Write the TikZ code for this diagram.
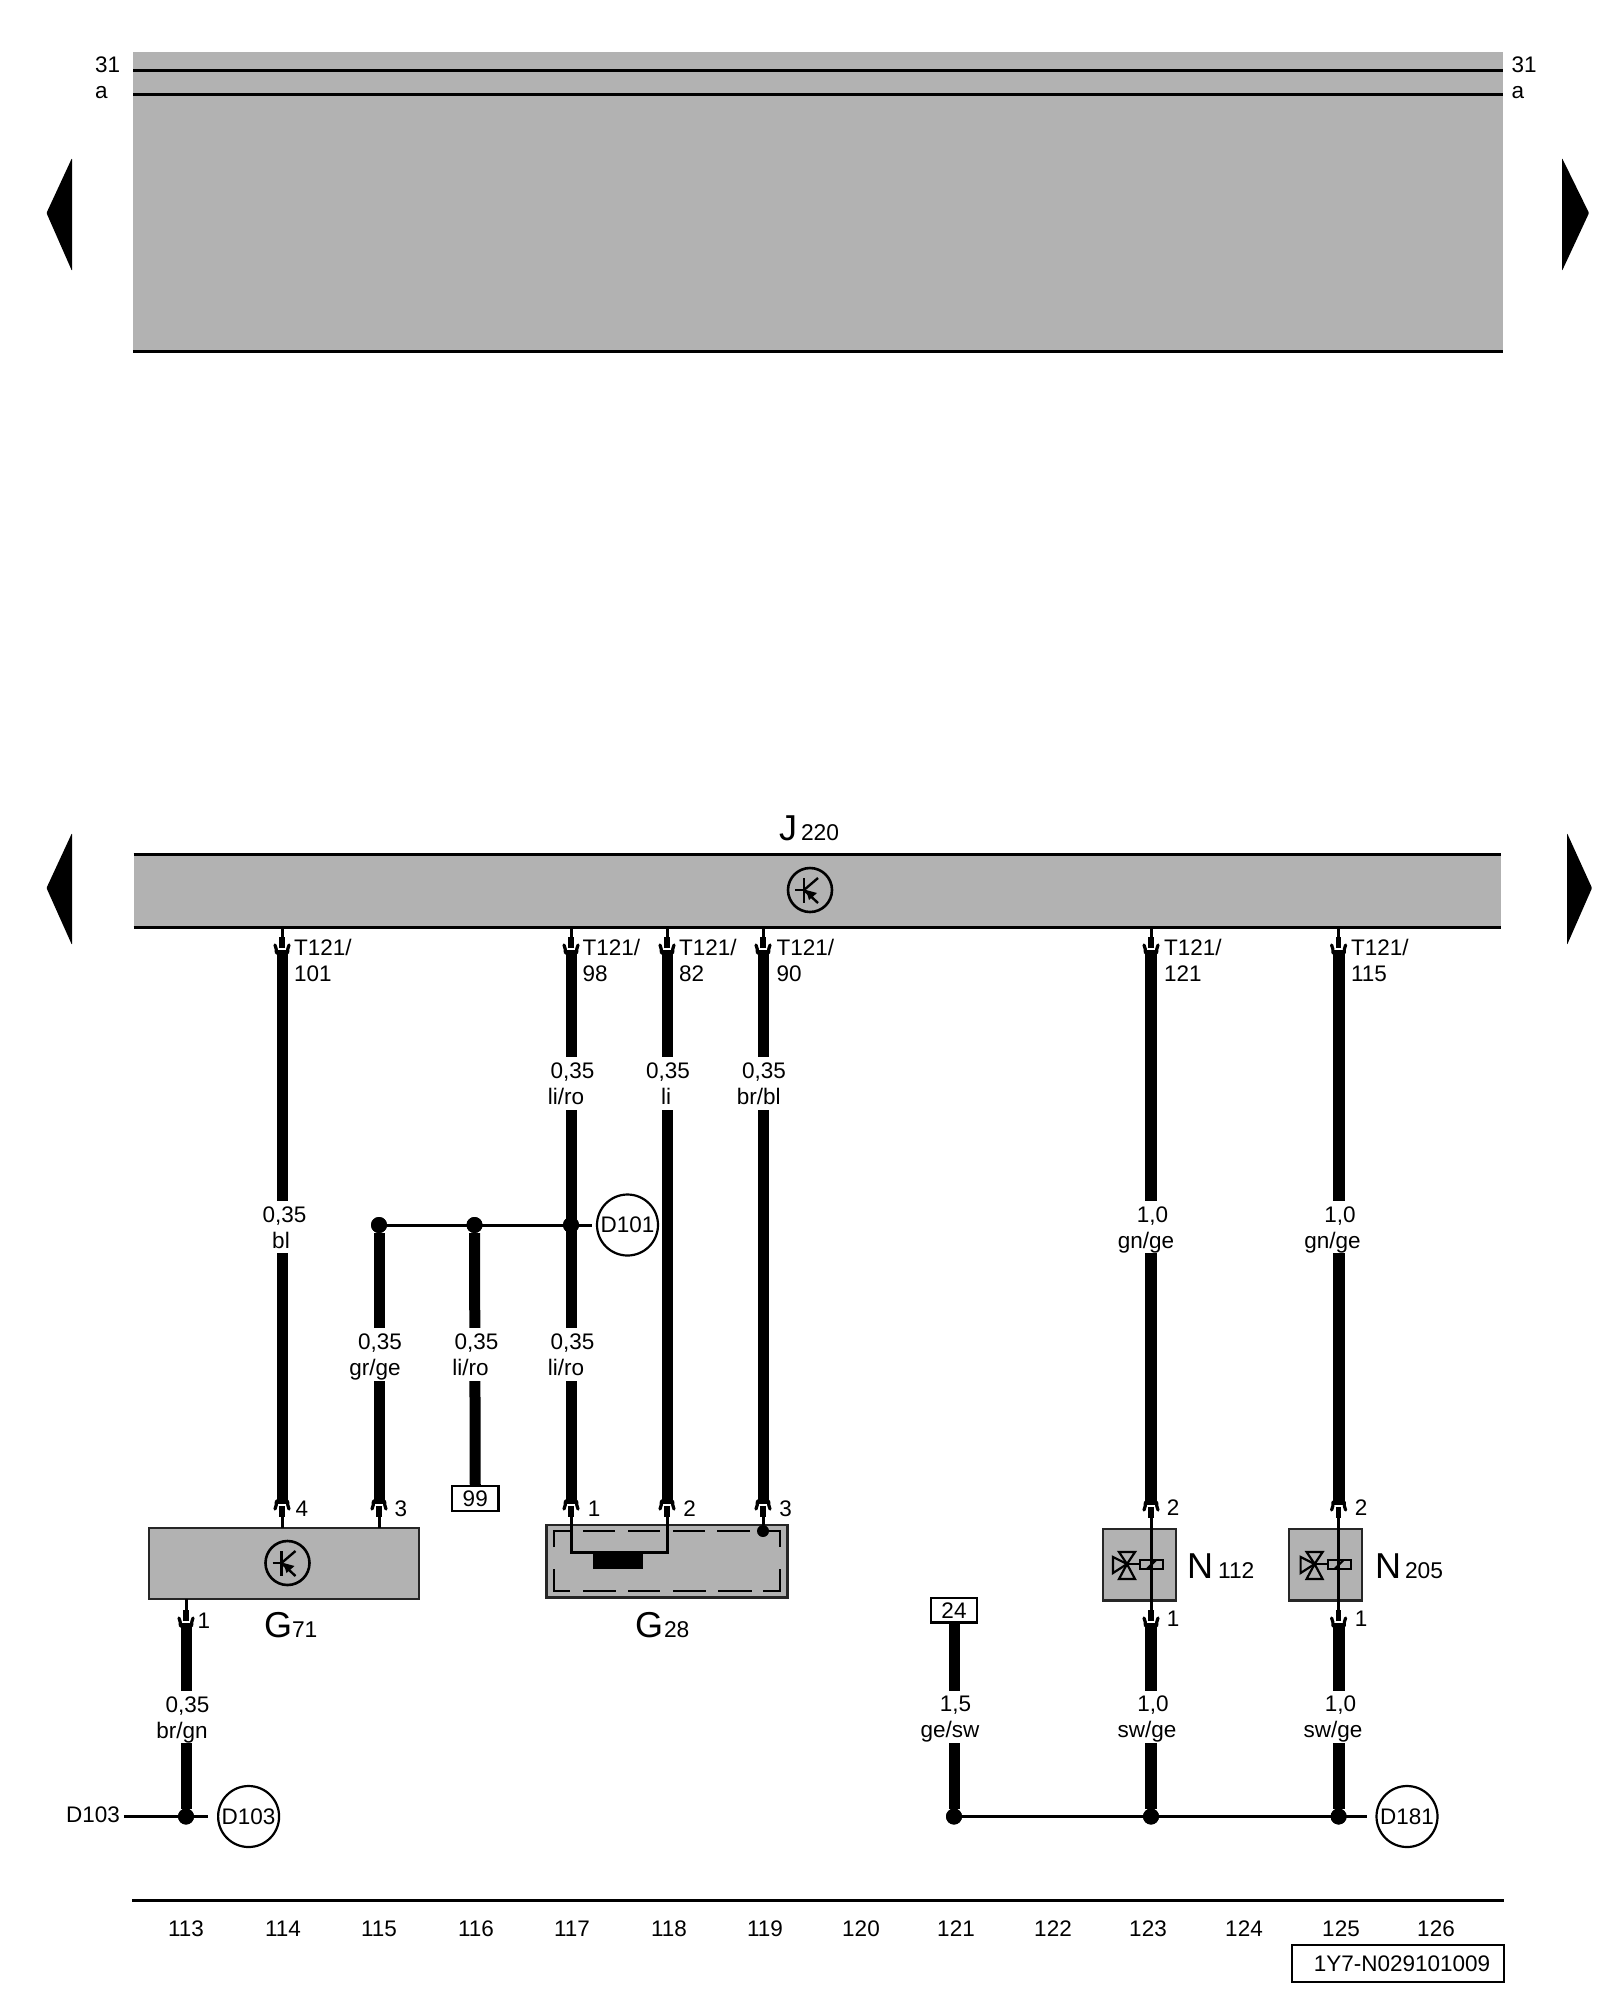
\documentclass[tikz,border=0pt]{standalone}
\usepackage{fontspec}
\setmainfont{Liberation Sans}
\definecolor{panel}{HTML}{B2B2B2}
\newcommand\fsN{\fontsize{22.5}{26}\selectfont}
\newcommand\fsL{\fontsize{36}{40}\selectfont}
\newcommand\fsS{\fontsize{22.8}{26}\selectfont}
\tikzset{
  txt/.style={font=\fsN,inner sep=0pt,outer sep=0pt,anchor=base},
  txtw/.style={txt,anchor=base west},
  bigl/.style={font=\fsL,inner sep=0pt,outer sep=0pt,anchor=base west},
  subl/.style={font=\fsS,inner sep=0pt,outer sep=0pt,anchor=base west},
  wirew/.style={line width=11pt,black},
  wirex/.style={line width=12pt,black},
  thinw/.style={line width=3pt,black},
  plate/.style={fill=panel,draw=none,inner sep=0pt,outer sep=0pt},
  frame/.style={plate,draw=black!85,line width=2.6pt},
  tag/.style={fill=white,draw=black,line width=2.4pt,inner sep=0pt,outer sep=0pt},
  gapw/.style={fill=white,draw=none,inner sep=0pt,outer sep=0pt,minimum width=15pt},
  dotn/.style={circle,fill=black,draw=none,inner sep=0pt,outer sep=0pt,minimum size=16pt},
  sym/.style={circle,draw=black,fill=none,line width=2.6pt,inner sep=0pt,outer sep=0pt,minimum size=44pt},
  conn/.style={circle,draw=black,fill=white,line width=2.2pt,font=\fsN,inner sep=0pt,outer sep=0pt,minimum size=61pt},
}
% rectangle node from corners: style,name,x1,y1,x2,y2,text
\newcommand\rectn[7]{%
  \pgfmathsetmacro\rw{#5-#3}\pgfmathsetmacro\rh{#6-#4}%
  \pgfmathsetmacro\rx{(#5+#3)/2}\pgfmathsetmacro\ry{(#6+#4)/2}%
  \node[#1,minimum width=\rw pt,minimum height=\rh pt] (#2) at (\rx,\ry) {#7};}
% pin: name,x,y of wire end,dir (+1 wire lies below, -1 wire lies above)
\newcommand\pinn[4]{%
  \coordinate (#1) at (#2,#3);
  \begin{scope}[shift={(#2,#3)},yscale=#4]
    \coordinate (#1-s) at (0,-13);
    \draw[line width=5.2pt] (0,-2) -- (#1-s);
    \draw[line width=3.2pt,line cap=round] (-5.6,3) .. controls (-5.6,0) and (-5.6,-2) .. (-7,-5);
    \draw[line width=3.2pt,line cap=round] (5.6,3) .. controls (5.6,0) and (5.6,-2) .. (7,-5);
  \end{scope}}
% wire label: name,wire x,top of gap,gap height,x1,line1,x2,line2
\newcommand\gapn[8]{%
  \pgfmathsetmacro\gy{#3+#4/2}\pgfmathsetmacro\ga{#3+21}\pgfmathsetmacro\gb{#3+47}%
  \node[gapw,minimum height=#4 pt] (#1) at (#2,\gy) {};
  \node[txt] (#1-a) at (#5,\ga) {#6};
  \node[txt] (#1-b) at (#7,\gb) {#8};}
% transistor symbol
\newcommand\transn[3]{%
  \node[sym] (#1) at (#2,#3) {};
  \begin{scope}[shift={(#2,#3)},line width=2.4pt]
    \draw (-6,-12) -- (-6,13);
    \draw (-15,0) -- (-6,0);
    \draw (-6,0) -- (8,-12);
    \draw (-6,0) -- (8,13);
    \fill (-4,0) -- (7,3) -- (-1,10) -- cycle;
  \end{scope}}
% valve symbol
\newcommand\valven[1]{%
  \begin{scope}[shift={(#1,0)},line width=2.2pt,black]
    \draw (1127,1564) -- (1119,1552) -- (1135,1552) -- cycle;
    \draw (1127,1564) -- (1119,1579) -- (1135,1579) -- cycle;
    \draw (1127,1564) -- (1113,1557) -- (1113,1573) -- cycle;
    \draw (1127,1564) -- (1140,1564);
    \draw (1140,1560) rectangle (1163,1569);
    \draw (1147,1569) -- (1156,1560);
  \end{scope}}
\begin{document}
\begin{tikzpicture}[x=1pt,y=-1pt]
\path[use as bounding box,fill=white] (0,0) rectangle (1600,2000);

% ---- top panel
\rectn{plate}{top}{133}{52}{1503}{351}{}
\coordinate (l31a) at (133,70); \coordinate (l31b) at (1503,70);
\coordinate (laa) at (133,94); \coordinate (lab) at (1503,94);
\draw[thinw] (l31a) -- (l31b);
\draw[thinw] (laa) -- (lab);
\draw[thinw] (top.south west) -- (top.south east);
\node[txtw] (t31l) at (95,72.5) {31};
\node[txtw] (tal) at (95,98) {a};
\node[txtw] (t31r) at (1511.5,72.5) {31};
\node[txtw] (tar) at (1511.5,98) {a};

% ---- page arrows
\fill[rounded corners=1pt] (72,158) -- (46.5,213) -- (72,271) -- cycle;
\fill[rounded corners=1pt] (1562,158) -- (1589,213) -- (1562,271) -- cycle;
\fill[rounded corners=1pt] (72,833) -- (46.5,888) -- (72,945) -- cycle;
\fill[rounded corners=1pt] (1567,833) -- (1592,888) -- (1567,945) -- cycle;

% ---- J220
\rectn{plate}{J}{133.5}{854}{1501}{927}{}
\draw[thinw] (J.north west) -- (J.north east);
\draw[thinw] (J.south west) -- (J.south east);
\node[bigl] (Jl) at (779,840) {J};
\node[subl] (Js) at (801,840) {220};
\transn{Jsym}{810}{890}

% ---- components
\rectn{frame}{G71}{149}{1528}{419}{1599}{}
\transn{G71sym}{287.5}{1563}
\rectn{frame}{G28}{546.5}{1525}{787.5}{1597.5}{}
\rectn{frame}{N112}{1103}{1529}{1176}{1600.5}{}
\rectn{frame}{N205}{1289}{1529}{1362}{1600.5}{}
\node[bigl] (G71l) at (264,1637) {G};
\node[subl] (G71s) at (292,1637) {71};
\node[bigl] (G28l) at (635,1637) {G};
\node[subl] (G28s) at (664,1637) {28};
\node[bigl] (N112l) at (1187,1578) {N};
\node[subl] (N112s) at (1218,1578) {112};
\node[bigl] (N205l) at (1375,1578) {N};
\node[subl] (N205s) at (1405,1578) {205};
\valven{0}
\valven{187.6}

% G28 inner dashes
\begin{scope}[line width=2.6pt]
  \draw (554,1547) -- (554,1531) -- (570,1531);
  \draw (763,1531) -- (780,1531) -- (780,1547);
  \draw (554,1569) -- (554,1591) -- (570,1591);
  \draw (763,1591) -- (780,1591) -- (780,1569);
  \foreach \a/\b in {583/615,628/660,673/705,717/750}{\draw (\a,1531) -- (\b,1531);}
  \foreach \a/\b in {583/616,628/660,673/706,718/752}{\draw (\a,1591) -- (\b,1591);}
\end{scope}
\rectn{fill=black,inner sep=0pt,outer sep=0pt}{G28c}{593}{1552}{643}{1569}{}

% ---- tags
\rectn{tag,font=\fsN}{t99}{452}{1486}{498.5}{1511}{99}
\rectn{tag,font=\fsN}{t24}{931}{1598}{977}{1622.5}{24}

% ---- pins
\pinn{p1a}{282}{950}{1}
\pinn{p4a}{571}{950}{1}
\pinn{p5a}{667}{950}{1}
\pinn{p6a}{763}{950}{1}
\pinn{p7a}{1151}{950}{1}
\pinn{p8a}{1338.6}{950}{1}
\pinn{p1b}{282}{1504}{-1}
\pinn{p2b}{379}{1504}{-1}
\pinn{p4b}{571}{1504}{-1}
\pinn{p5b}{667}{1504}{-1}
\pinn{p6b}{763}{1504}{-1}
\pinn{p7b}{1151}{1505}{-1}
\pinn{p8b}{1338.6}{1505}{-1}
\pinn{p0c}{186}{1623}{1}
\pinn{p7c}{1151}{1623}{1}
\pinn{p8c}{1338.6}{1623}{1}

% pin stems
\foreach \p in {p1a,p4a,p5a,p6a,p7a,p8a}{\draw[thinw] (\p-s) -- (\p-s |- J.south);}
\foreach \p in {p1b,p2b}{\draw[thinw] (\p-s) -- (\p-s |- G71.north);}
\draw[thinw] (p0c-s) -- (p0c-s |- G71.south);
\draw[thinw] (p7b-s) -- (p7c-s);
\draw[thinw] (p8b-s) -- (p8c-s);
\coordinate (g1) at (571,1552); \coordinate (g2) at (667,1552);
\draw[thinw] (p4b-s) -- (g1) -- (g2) -- (p5b-s);
\node[circle,fill=black,inner sep=0pt,outer sep=0pt,minimum size=12pt] (g3) at (763,1531) {};
\draw[thinw] (p6b-s) -- (g3);

% ---- junction dots and earth points
\node[dotn] (j1) at (379,1225) {};
\node[dotn] (j2) at (474.5,1225) {};
\node[dotn] (j3) at (571,1225) {};
\node[dotn] (j4) at (186,1816.5) {};
\node[dotn] (j5) at (954,1816.5) {};
\node[dotn] (j6) at (1151,1816.5) {};
\node[dotn] (j7) at (1338.6,1816.5) {};
\node[conn] (D101) at (627.5,1225) {D101};
\node[conn] (D103) at (248.6,1816.5) {D103};
\node[conn] (D181) at (1407,1816.5) {D181};
\node[txt,anchor=center] (D103t) at (93,1815) {D103};

% ---- wires
\draw[wirew] (p1a) -- (p1b);
\draw[wirew] (j1) -- (p2b);
\draw[wirew] (j2) -- (t99.north);
\draw[wirew] (p4a) -- (p4b);
\draw[wirew] (p5a) -- (p5b);
\draw[wirew] (p6a) -- (p6b);
\draw[wirex] (p7a) -- (p7b);
\draw[wirex] (p8a) -- (p8b);
\draw[wirew] (p0c) -- (j4);
\draw[wirew] (t24.south) -- (j5);
\draw[wirex] (p7c) -- (j6);
\draw[wirex] (p8c) -- (j7);

% ---- cross lines
\draw[thinw,shorten >=5pt] (j1) -- (D101);
\draw[thinw,shorten >=10pt] (j5) -- (D181);
\draw[thinw,shorten <=4pt,shorten >=10pt] (D103t.east |- D103.west) -- (D103);

% dots on top of wire ends
\foreach \c/\x/\y in {a/379/1225,b/474.5/1225,c/571/1225,d/186/1816.5,e/954/1816.5,f/1151/1816.5,g/1338.6/1816.5}{
  \node[dotn] (dot\c) at (\x,\y) {};}

% ---- wire labels
\gapn{w1}{282}{1201}{52}{284.5}{0,35}{281}{bl}
\gapn{w2}{379}{1328}{53}{380}{0,35}{375}{gr/ge}
\gapn{w3}{474.5}{1328}{53}{476.6}{0,35}{470.5}{li/ro}
\gapn{w4a}{571}{1057}{53}{572.5}{0,35}{566}{li/ro}
\gapn{w4b}{571}{1328}{53}{572.5}{0,35}{566}{li/ro}
\gapn{w5}{667}{1057}{53}{668}{0,35}{666}{li}
\gapn{w6}{763}{1057}{53}{764}{0,35}{758.7}{br/bl}
\gapn{w7}{1151}{1201}{52}{1152.6}{1,0}{1146}{gn/ge}
\gapn{w8}{1338.6}{1201}{52}{1340}{1,0}{1332.5}{gn/ge}
\gapn{w0}{186}{1691}{52}{187.5}{0,35}{182}{br/gn}
\gapn{w9}{954}{1690.5}{52.5}{955.5}{1,5}{950}{ge/sw}
\gapn{w10}{1151}{1690.5}{52.5}{1153}{1,0}{1147}{sw/ge}
\gapn{w11}{1338.6}{1690.5}{52.5}{1340.5}{1,0}{1333}{sw/ge}

% ---- pin labels
\foreach \n/\x/\t in {t1/294/101,t4/582.6/98,t5/679/82,t6/776.5/90,t7/1164/121,t8/1351/115}{
  \node[txtw] (\n a) at (\x,955) {T121/};
  \node[txtw] (\n b) at (\x,981) {\t};}
\foreach \n/\x/\y/\t in {n1/302/1516/4,n2/401/1516/3,n3/594/1516/1,n4/689.5/1516/2,n5/785.6/1516/3,n6/1173/1515/2,n7/1361/1515/2,n8/204/1628/1,n9/1173/1626/1,n10/1361/1626/1}{
  \node[txt] (\n) at (\x,\y) {\t};}

% ---- footer
\coordinate (fa) at (132,1900); \coordinate (fb) at (1504,1900);
\draw[thinw] (fa) -- (fb);
\foreach \x/\t in {186/113,283/114,379/115,476/116,572/117,669/118,765/119,861/120,956/121,1053/122,1148/123,1244/124,1341/125,1436/126}{
  \node[txt] (c\t) at (\x,1936) {\t};}
\rectn{tag}{ref}{1292}{1945}{1504}{1982}{}
\node[txt] (reft) at (1402,1971) {1Y7-N029101009};
\end{tikzpicture}
\end{document}
